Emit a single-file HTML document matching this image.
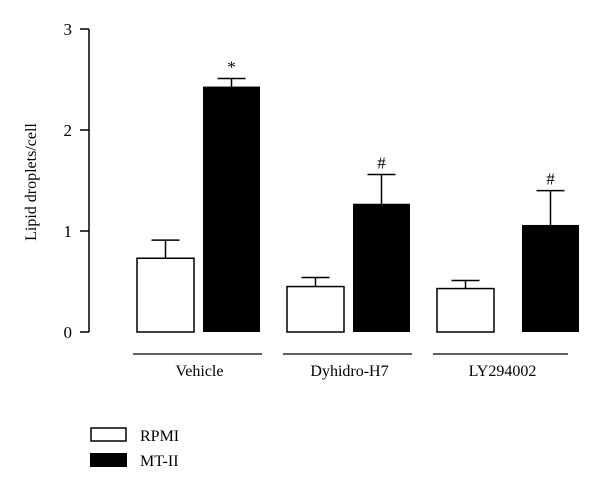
<!DOCTYPE html>
<html><head><meta charset="utf-8"><style>
body{margin:0;background:#fff;}
svg text{font-family:"Liberation Serif",serif;fill:#000;}
</style></head><body>
<svg id="chart" width="600" height="494" viewBox="0 0 600 494" xmlns="http://www.w3.org/2000/svg"></svg>
<script>
const categories = ["Vehicle", "Dyhidro-H7", "LY294002"];
const rpmiValues = [0.73, 0.45, 0.43];
const rpmiErrors = [0.18, 0.09, 0.08];
const mtValues = [2.43, 1.27, 1.06];
const mtErrors = [0.08, 0.29, 0.34];
const markers = ["*", "#", "#"];
const yTicks = [0, 1, 2, 3];

const NS = "http://www.w3.org/2000/svg";
const svg = document.getElementById("chart");
const y = v => 332 - v * 101;
const groupX = [137, 287, 437];
const mtX = [203, 353, 522];
const barW = 57;
function mk(tag, attrs, parent) {
  const e = document.createElementNS(NS, tag);
  for (const k in attrs) e.setAttribute(k, attrs[k]);
  (parent || svg).appendChild(e);
  return e;
}
// axis
const axis = mk("g", {});


mk("line", {x1: 89, y1: y(3), x2: 89, y2: y(0), stroke: "#000", "stroke-width": 1.5}, axis);
yTicks.forEach(t => {
  mk("line", {x1: 80, y1: y(t), x2: 89, y2: y(t), stroke: "#000", "stroke-width": 1.5}, axis);
  const tx = mk("text", {x: 72, y: y(t) + 6, "font-size": 17, "text-anchor": "end"}, axis);
  tx.textContent = t;
  
  
});
const yt = mk("text", {x: 0, y: 0, "font-size": 16, "text-anchor": "middle", transform: "translate(36,182) rotate(-90)"});
yt.textContent = "Lipid droplets/cell";



function errBar(cx, v, e) {
  const g = mk("g", {stroke: "#000", "stroke-width": 1.5});
  mk("line", {x1: cx, y1: y(v), x2: cx, y2: y(v + e)}, g);
  mk("line", {x1: cx - 14, y1: y(v + e), x2: cx + 14, y2: y(v + e)}, g);
  
  
}
categories.forEach((c, i) => {
  const r = mk("rect", {x: groupX[i], y: y(rpmiValues[i]), width: barW, height: y(0) - y(rpmiValues[i]), fill: "#fff", stroke: "#000", "stroke-width": 1.5});
  
  
  errBar(groupX[i] + barW / 2, rpmiValues[i], rpmiErrors[i]);
  const m = mk("rect", {x: mtX[i], y: y(mtValues[i]), width: barW, height: y(0) - y(mtValues[i]), fill: "#000"});
  
  
  errBar(mtX[i] + barW / 2, mtValues[i], mtErrors[i]);
  const mkTxt = mk("text", {x: mtX[i] + barW / 2, y: y(mtValues[i] + mtErrors[i]) - 6, "font-size": 17, "text-anchor": "middle"});
  mkTxt.textContent = markers[i];
  
  
  const lx1 = groupX[i] - 4, lx2 = mtX[i] + barW + (i === 2 ? -11 : 2);
  const gl = mk("line", {x1: lx1, y1: 354, x2: lx2, y2: 354, stroke: "#000", "stroke-width": 1.2});
  
  
  const lb = mk("text", {x: (lx1 + lx2) / 2 + 2, y: 376, "font-size": 16, "text-anchor": "middle"});
  lb.textContent = c;
  
  
});
// legend
const leg = mk("g", {});


const l1 = mk("rect", {x: 91, y: 428, width: 35, height: 13, fill: "#fff", stroke: "#000", "stroke-width": 1.5}, leg);


const t1 = mk("text", {x: 140, y: 441, "font-size": 16}, leg);
t1.textContent = "RPMI";


const l2 = mk("rect", {x: 90, y: 453, width: 37, height: 14, fill: "#000"}, leg);


const t2 = mk("text", {x: 140, y: 466, "font-size": 16}, leg);
t2.textContent = "MT-II";


</script>
</body></html>
